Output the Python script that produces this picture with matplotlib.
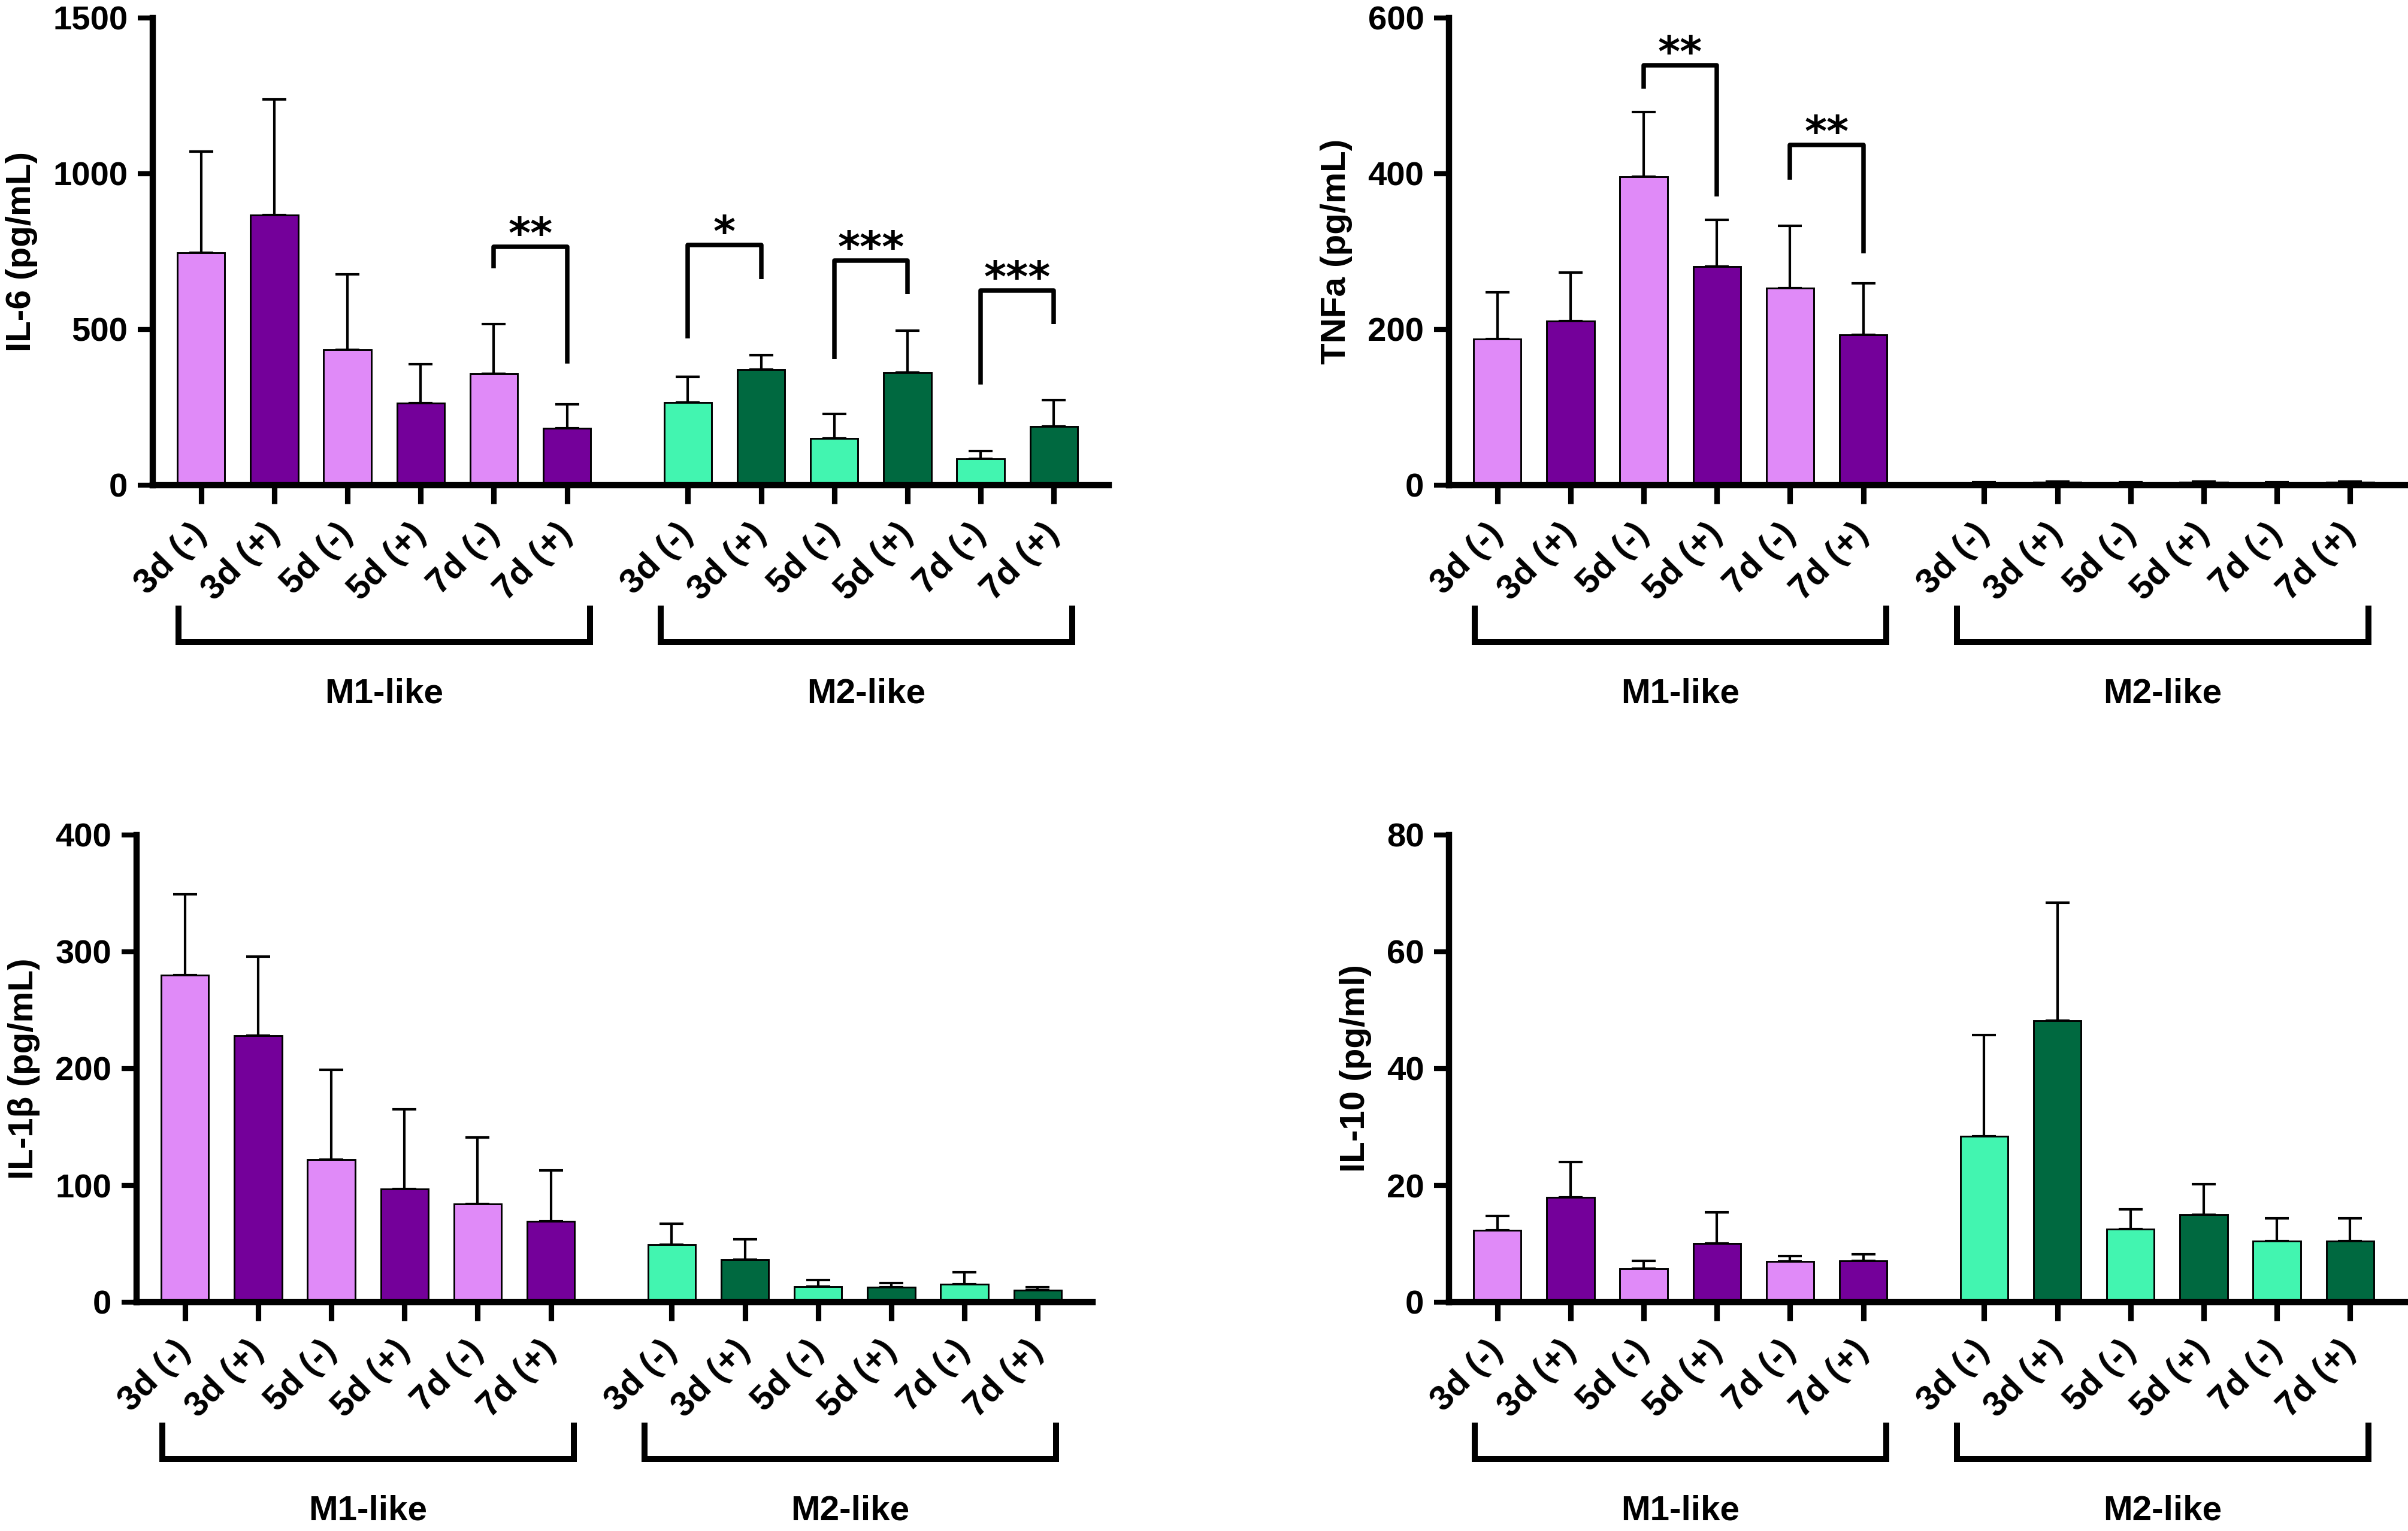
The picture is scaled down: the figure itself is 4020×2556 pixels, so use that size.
import numpy as np
import matplotlib
matplotlib.use("Agg")
import matplotlib.pyplot as plt
from matplotlib.transforms import blended_transform_factory

plt.rcParams['font.family'] = ['Liberation Sans', 'DejaVu Sans']
plt.rcParams['font.weight'] = 'bold'

conditions = ['3d (-)', '3d (+)', '5d (-)', '5d (+)', '7d (-)', '7d (+)']
groups = ['M1-like', 'M2-like']

# means / SD (M1 first six, M2 last six)
il6_mean = [746, 867, 434, 264, 358, 182, 265, 372, 150, 362, 84, 188]
il6_sd = [325, 371, 242, 125, 160, 77, 84, 46, 78, 134, 26, 86]
tnf_mean = [188, 211, 396, 281, 253, 193, 3, 4, 3, 4, 3, 4]
tnf_sd = [60, 62, 83, 60, 80, 66, 0.5, 0.5, 0.5, 0.5, 0.5, 0.5]
il1b_mean = [280, 228, 122, 97, 84, 69, 49, 36.5, 13.5, 12.7, 15.6, 10.3]
il1b_sd = [69, 68, 77, 68, 57, 44, 18, 17.5, 5.5, 3.7, 9.8, 2.4]
il10_mean = [12.3, 18.0, 5.7, 10.1, 7.0, 7.1, 28.4, 48.2, 12.5, 15.0, 10.5, 10.5]
il10_sd = [2.5, 6.0, 1.4, 5.3, 0.9, 1.1, 17.3, 20.2, 3.4, 5.2, 3.9, 3.9]

# significance: (bar i, bar j, bracket y, left leg end, right leg end, label)
il6_sig = [(4, 5, 765, 697, 391, '**'),
           (6, 7, 771, 471, 662, '*'),
           (8, 9, 721, 406, 613, '***'),
           (10, 11, 625, 323, 517, '***')]
tnf_sig = [(2, 3, 539, 509, 371, '**'),
           (4, 5, 437, 392, 298, '**')]

c_m1_neg = '#E08AF8'
c_m1_pos = '#74009A'
c_m2_neg = '#42F5B0'
c_m2_pos = '#006940'
bar_colors = [c_m1_neg, c_m1_pos] * 3 + [c_m2_neg, c_m2_pos] * 3

W, H = 4020, 2556
fig = plt.figure(figsize=(W / 300, H / 300), dpi=300)

def px_rect(left, top, right, bottom):
    return [left / W, 1 - bottom / H, (right - left) / W, (bottom - top) / H]

xpos = np.r_[np.arange(6), np.arange(6) + 6.65]

def draw_panel(rect, mean, sd, ylabel, ymax, yticks, sig=()):
    ax = fig.add_axes(rect)
    ax.bar(xpos, mean, width=0.65, color=bar_colors, edgecolor='black',
           linewidth=0.7, zorder=2)
    ax.errorbar(xpos, mean, yerr=[np.zeros(len(mean)), sd], fmt='none',
                ecolor='black', elinewidth=1.0, capsize=4.8, capthick=1.0,
                zorder=1)
    ax.set_xlim(-0.66, 12.40)
    ax.set_ylim(0, ymax)
    ax.set_yticks(yticks)
    ax.set_xticks(xpos)
    ax.set_xticklabels(conditions * 2, rotation=45, ha='right', va='center',
                       rotation_mode='anchor', fontsize=14, fontweight='bold')
    ax.tick_params(axis='y', labelsize=13.5, width=2.0, length=6, pad=4)
    ax.tick_params(axis='x', width=2.2, length=7.5, pad=10)
    for s in ['top', 'right']:
        ax.spines[s].set_visible(False)
    for s in ['left', 'bottom']:
        ax.spines[s].set_linewidth(2.5)
    ax.set_ylabel(ylabel, fontsize=14, fontweight='bold', labelpad=6)

    for i, j, yt, yl, yr, lab in sig:
        ax.plot([xpos[i], xpos[i], xpos[j], xpos[j]], [yl, yt, yt, yr],
                color='black', lw=1.8, solid_capstyle='butt', clip_on=False)
        ax.annotate(lab, ((xpos[i] + xpos[j]) / 2, yt), xytext=(0, -4),
                    textcoords='offset points', ha='center', va='bottom',
                    fontsize=17, fontweight='bold',
                    family=['DejaVu Sans'])

    trans = blended_transform_factory(ax.transData, ax.transAxes)
    for g, name in enumerate(groups):
        shift = -0.06 * g
        a = xpos[6 * g] - 0.31 + shift
        b = xpos[6 * g + 5] + 0.31 + shift
        ax.plot([a, a, b, b], [-0.258, -0.336, -0.336, -0.258], transform=trans,
                color='black', lw=2.4, clip_on=False, solid_capstyle='butt',
                solid_joinstyle='miter')
        ax.text((a + b) / 2, -0.447, name, transform=trans, ha='center',
                va='center', fontsize=14, fontweight='bold')
    return ax

draw_panel(px_rect(255, 30, 1851, 810), il6_mean, il6_sd, 'IL-6 (pg/mL)',
           1500, [0, 500, 1000, 1500], il6_sig)
draw_panel(px_rect(2419, 30, 4015, 810), tnf_mean, tnf_sd, 'TNFa (pg/mL)',
           600, [0, 200, 400, 600], tnf_sig)
draw_panel(px_rect(228, 1394, 1824, 2174), il1b_mean, il1b_sd, 'IL-1β (pg/mL)',
           400, [0, 100, 200, 300, 400])
draw_panel(px_rect(2419, 1394, 4015, 2174), il10_mean, il10_sd, 'IL-10 (pg/ml)',
           80, [0, 20, 40, 60, 80])

fig.savefig('out.png', dpi=300)
